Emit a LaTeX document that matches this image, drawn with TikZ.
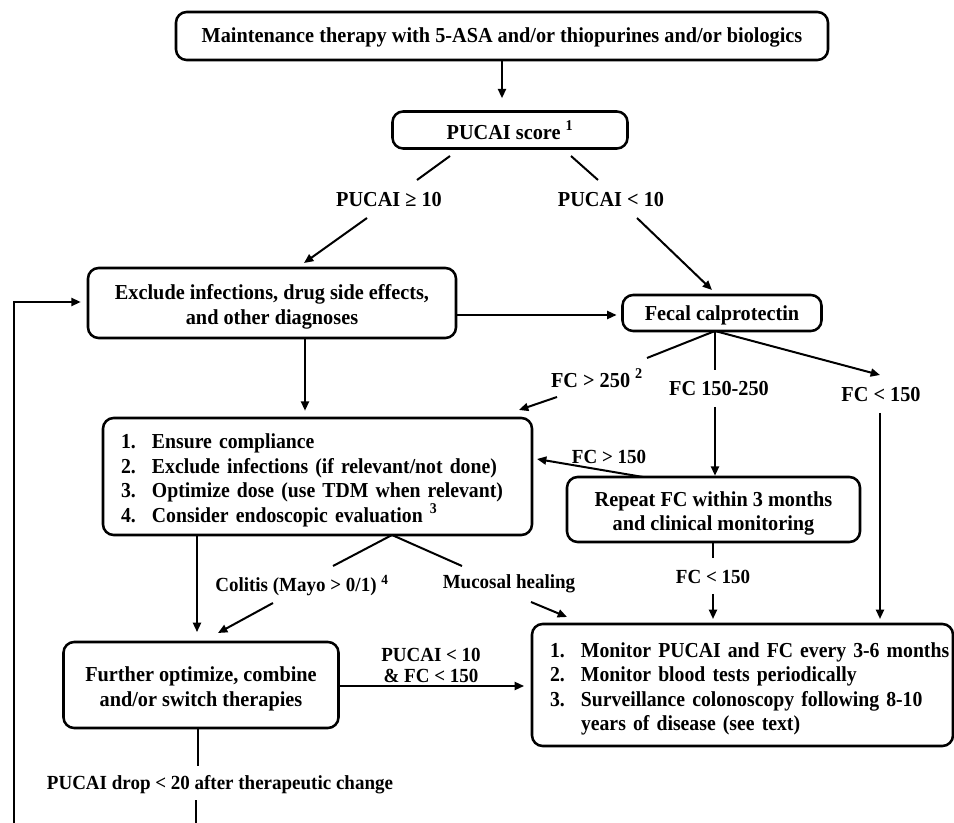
\documentclass[tikz,border=0pt]{standalone}
\usepackage{fontspec}
\setmainfont{Liberation Serif}[FakeStretch=0.95]
\newfontfamily\listfont{Liberation Serif}[FakeStretch=0.925]
\usetikzlibrary{arrows.meta}
\newcommand\listnum[1]{\makebox[23.25pt][l]{#1}}
\newcommand\listline[2]{\mbox{\listnum{#1}#2}}
% struts that set the first line height of the box texts
\newcommand\onestrut{\rule{0pt}{14pt}}
\newcommand\twostrut{\rule{0pt}{17pt}}
\begin{document}
\begin{tikzpicture}[x=0.75pt,y=-0.75pt,
  box/.style={draw, line width=1.9pt, rounded corners=8pt, inner sep=0pt, align=center,
    font=\fontsize{16}{18.4}\selectfont\bfseries},
  listbox/.style={box, align=left, inner xsep=13.5pt, inner ysep=0pt,
    font=\fontsize{16}{18.4}\listfont\bfseries,
    execute at begin node={\twostrut}},
  lbl/.style={inner sep=0pt, align=center, font=\fontsize{16}{18}\selectfont\bfseries},
  slbl/.style={inner sep=0pt, align=center, font=\fontsize{15}{15.75}\selectfont\bfseries},
  ln/.style={line width=1.5pt},
  arr/.style={ln, -{Triangle[length=7pt,width=6pt]}}]
\useasboundingbox (0,0) rectangle (954,823);

% boxes
\node[box, minimum width=489pt, minimum height=36pt] (top) at (502,36)
  {\onestrut Maintenance therapy with 5-ASA and/or thiopurines and/or biologics};
\node[box, minimum width=176.25pt, minimum height=27.75pt] (pucai) at (510,130)
  {\onestrut PUCAI score \textsuperscript{1}};
\node[box, minimum width=276pt, minimum height=52.5pt] (excl) at (272,303)
  {\twostrut Exclude infections, drug side effects,\\and other diagnoses};
\node[box, minimum width=149.25pt, minimum height=27pt] (fecal) at (722,313)
  {\onestrut Fecal calprotectin};
\node[listbox, text width=294.75pt, minimum height=87.75pt] (ensure) at (317.5,476.5)
  {\listline{1.}{Ensure compliance}\\
   \listline{2.}{Exclude infections (if relevant/not done)}\\
   \listline{3.}{Optimize dose (use TDM when relevant)}\\
   \listline{4.}{Consider endoscopic evaluation \textsuperscript{3}}};
\node[box, minimum width=219.75pt, minimum height=48.75pt] (repeat) at (713.5,509.5)
  {\twostrut Repeat FC within 3 months\\and clinical monitoring};
\node[box, minimum width=206.25pt, minimum height=64.5pt] (further) at (201,685)
  {\twostrut Further optimize, combine\\and/or switch therapies};
\node[listbox, text width=288.75pt, minimum height=91.5pt] (monitor) at (742.5,685)
  {\listline{1.}{Monitor PUCAI and FC every 3-6 months}\\
   \listline{2.}{Monitor blood tests periodically}\\
   \listline{3.}{Surveillance colonoscopy following 8-10}\\
   \listline{}{years of disease (see text)}};

% branch labels
\node[lbl] (ge) at (389,200) {PUCAI ≥ 10};
\node[lbl] (lt) at (611,200) {PUCAI < 10};
\node[lbl] (fchi) at (597,378) {FC > 250 \textsuperscript{2}};
\node[lbl] (fcmid) at (719,389) {FC 150-250};
\node[lbl] (fclo) at (881,395) {FC < 150};
\node[slbl] (fcre) at (609,457) {FC > 150};
\node[slbl] (fcok) at (713,577) {FC < 150};
\node[slbl] (colitis) at (302,586) {Colitis (Mayo > 0/1) \textsuperscript{4}};
\node[slbl] (mucosal) at (509,584) {Mucosal healing};
\node[slbl] (remit) at (431,665) {PUCAI < 10\\\& FC < 150};
\node[slbl] (drop) at (220,785) {PUCAI drop < 20 after therapeutic change};

% connector end points
\coordinate (ge-a) at (450,156);  \coordinate (ge-b) at (417,180);
\coordinate (ge-c) at (367,218);  \coordinate (ge-d) at (304,263);
\coordinate (lt-a) at (571,156);  \coordinate (lt-b) at (598,180);
\coordinate (lt-c) at (637,218);  \coordinate (lt-d) at (712,290);
\coordinate (fc-apex) at (715,331);
\coordinate (hi-b) at (647,358);  \coordinate (hi-c) at (557,397);  \coordinate (hi-d) at (519,410);
\coordinate (mid-b) at (715,370); \coordinate (mid-c) at (715,407);
\coordinate (lo-b) at (880,375);  \coordinate (lo-c) at (880,413);  \coordinate (lo-d) at (880,619);
\coordinate (re-a) at (643,477);  \coordinate (re-b) at (537,459);
\coordinate (ok-a) at (713,542);  \coordinate (ok-b) at (713,558);
\coordinate (ok-c) at (713,594);  \coordinate (ok-d) at (713,619);
\coordinate (en-apex) at (392,535);
\coordinate (co-b) at (333,566);  \coordinate (co-c) at (273,603);  \coordinate (co-d) at (218,633);
\coordinate (mu-b) at (462,566);  \coordinate (mu-c) at (531,602);  \coordinate (mu-d) at (567,617);
\coordinate (dr-a) at (198,728);  \coordinate (dr-b) at (198,766);
\coordinate (dr-c) at (196,800);  \coordinate (dr-d) at (196,823);
\coordinate (fb-bot) at (14,823);

% connectors
\draw[arr, shorten >=9pt] (top.south) -- (top.south |- pucai.north);
\draw[ln] (ge-a) -- (ge-b);  \draw[arr] (ge-c) -- (ge-d);
\draw[ln] (lt-a) -- (lt-b);  \draw[arr] (lt-c) -- (lt-d);
\draw[arr, shorten >=3.5pt] (excl.east |- 0,315) -- (fecal.west |- 0,315);
\draw[arr, shorten >=4.5pt] (excl.south -| 305,0) -- (ensure.north -| 305,0);
\draw[ln] (fc-apex) -- (hi-b);  \draw[arr] (hi-c) -- (hi-d);
\draw[ln] (fc-apex) -- (mid-b); \draw[arr] (mid-c) -- (repeat.north -| mid-c);
\draw[arr] (fc-apex) -- (lo-b); \draw[arr] (lo-c) -- (lo-d);
\draw[arr] (re-a) -- (re-b);
\draw[ln] (ok-a) -- (ok-b);     \draw[arr] (ok-c) -- (ok-d);
\draw[ln] (en-apex) -- (co-b);  \draw[arr] (co-c) -- (co-d);
\draw[ln] (en-apex) -- (mu-b);  \draw[arr] (mu-c) -- (mu-d);
\draw[arr, shorten >=6.5pt] (ensure.south -| 197,0) -- (further.north -| 197,0);
\draw[arr, shorten >=5pt] (further.east |- 0,686) -- (monitor.west |- 0,686);
\draw[ln] (dr-a) -- (dr-b);     \draw[ln] (dr-c) -- (dr-d);
\draw[arr, shorten >=4.5pt] (fb-bot) |- (excl.west |- 0,302);
\end{tikzpicture}
\end{document}
